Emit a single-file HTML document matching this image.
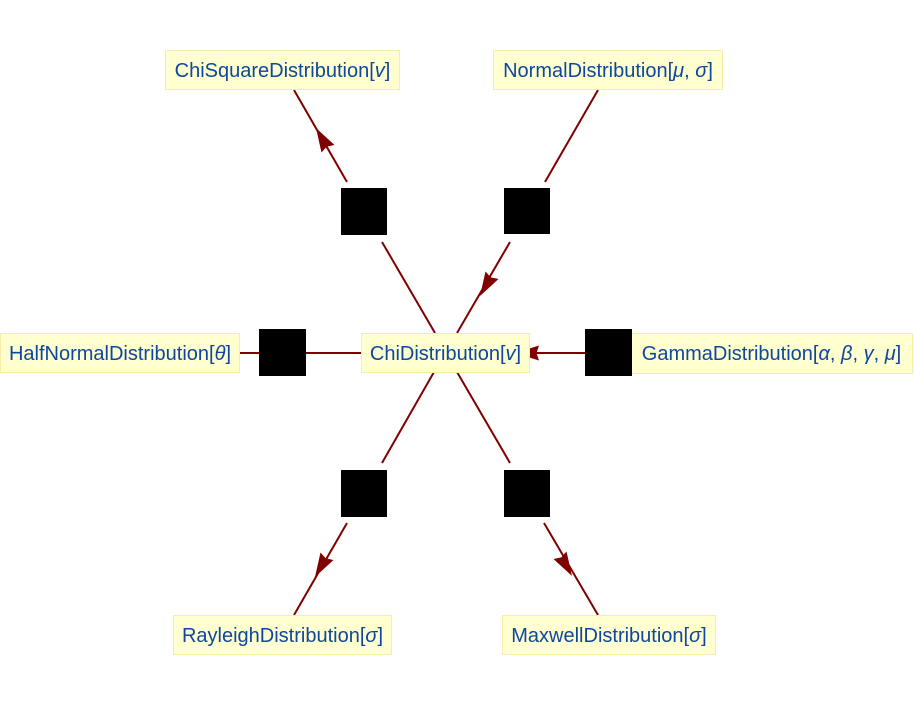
<!DOCTYPE html>
<html>
<head>
<meta charset="utf-8">
<style>
  html, body { margin: 0; padding: 0; background: #ffffff; }
  body { width: 914px; height: 708px; overflow: hidden; }
  svg { display: block; }
  .lbl { font-family: "Liberation Sans", Arial, sans-serif; font-size: 20px; fill: #0d47a1; }
  .box { fill: #ffffcf; stroke: #f4eeaa; stroke-width: 1; }
  .ln { stroke: #7f0000; stroke-width: 2; fill: none; }
  .ah { fill: #7f0000; }
</style>
</head>
<body>
<svg width="914" height="708" viewBox="0 0 914 708" xmlns="http://www.w3.org/2000/svg">
  <!-- connectors -->
  <line class="ln" x1="294" y1="90" x2="347" y2="182"/>
  <line class="ln" x1="382" y1="242" x2="435" y2="333"/>
  <line class="ln" x1="598" y1="90" x2="545" y2="182"/>
  <line class="ln" x1="510" y1="242" x2="457" y2="333"/>
  <line class="ln" x1="240" y1="353" x2="259" y2="353"/>
  <line class="ln" x1="306" y1="353" x2="361" y2="353"/>
  <line class="ln" x1="585" y1="353" x2="525" y2="353"/>
  <line class="ln" x1="434" y1="372" x2="382" y2="463"/>
  <line class="ln" x1="347" y1="523" x2="294" y2="615"/>
  <line class="ln" x1="457" y1="372" x2="510" y2="463"/>
  <line class="ln" x1="544" y1="523" x2="598" y2="615"/>

  <!-- arrowheads -->
  <path class="ah" d="M0,0 L-24,-7.5 L-21.5,0 L-24,7.5 Z" transform="translate(316,128) rotate(-120)"/>
  <path class="ah" d="M0,0 L-24,-7.5 L-21.5,0 L-24,7.5 Z" transform="translate(480,296) rotate(120)"/>
  <path class="ah" d="M0,0 L-24,-7.5 L-21.5,0 L-24,7.5 Z" transform="translate(515,353) rotate(180)"/>
  <path class="ah" d="M0,0 L-24,-7.5 L-21.5,0 L-24,7.5 Z" transform="translate(315,577) rotate(120)"/>
  <path class="ah" d="M0,0 L-24,-7.5 L-21.5,0 L-24,7.5 Z" transform="translate(572,576) rotate(60)"/>

  <!-- label boxes -->
  <rect class="box" x="165.5" y="50.5" width="234" height="39"/>
  <text class="lbl" x="282.5" y="77" text-anchor="middle">ChiSquareDistribution[<tspan font-style="italic">v</tspan>]</text>

  <rect class="box" x="493.5" y="50.5" width="229" height="39"/>
  <text class="lbl" x="608" y="77" text-anchor="middle">NormalDistribution[<tspan font-style="italic">μ</tspan>, <tspan font-style="italic">σ</tspan>]</text>

  <rect class="box" x="0.5" y="333.5" width="239" height="39"/>
  <text class="lbl" x="120" y="360" text-anchor="middle">HalfNormalDistribution[<tspan font-style="italic">θ</tspan>]</text>

  <rect class="box" x="361.5" y="333.5" width="168" height="39"/>
  <text class="lbl" x="445.5" y="360" text-anchor="middle">ChiDistribution[<tspan font-style="italic">v</tspan>]</text>

  <rect class="box" x="630.5" y="333.5" width="282" height="40"/>
  <text class="lbl" x="771.5" y="360" text-anchor="middle">GammaDistribution[<tspan font-style="italic">α</tspan>, <tspan font-style="italic">β</tspan>, <tspan font-style="italic">γ</tspan>, <tspan font-style="italic">μ</tspan>]</text>

  <rect class="box" x="173.5" y="615.5" width="218" height="39"/>
  <text class="lbl" x="282.5" y="642" text-anchor="middle">RayleighDistribution[<tspan font-style="italic">σ</tspan>]</text>

  <rect class="box" x="502.5" y="615.5" width="213" height="39"/>
  <text class="lbl" x="609" y="642" text-anchor="middle">MaxwellDistribution[<tspan font-style="italic">σ</tspan>]</text>

  <!-- black squares -->
  <rect x="341" y="188" width="46" height="47" fill="#000"/>
  <rect x="504" y="188" width="46" height="46" fill="#000"/>
  <rect x="259" y="329" width="47" height="47" fill="#000"/>
  <rect x="585" y="329" width="47" height="47" fill="#000"/>
  <rect x="341" y="470" width="46" height="47" fill="#000"/>
  <rect x="504" y="470" width="46" height="47" fill="#000"/>
</svg>
</body>
</html>
